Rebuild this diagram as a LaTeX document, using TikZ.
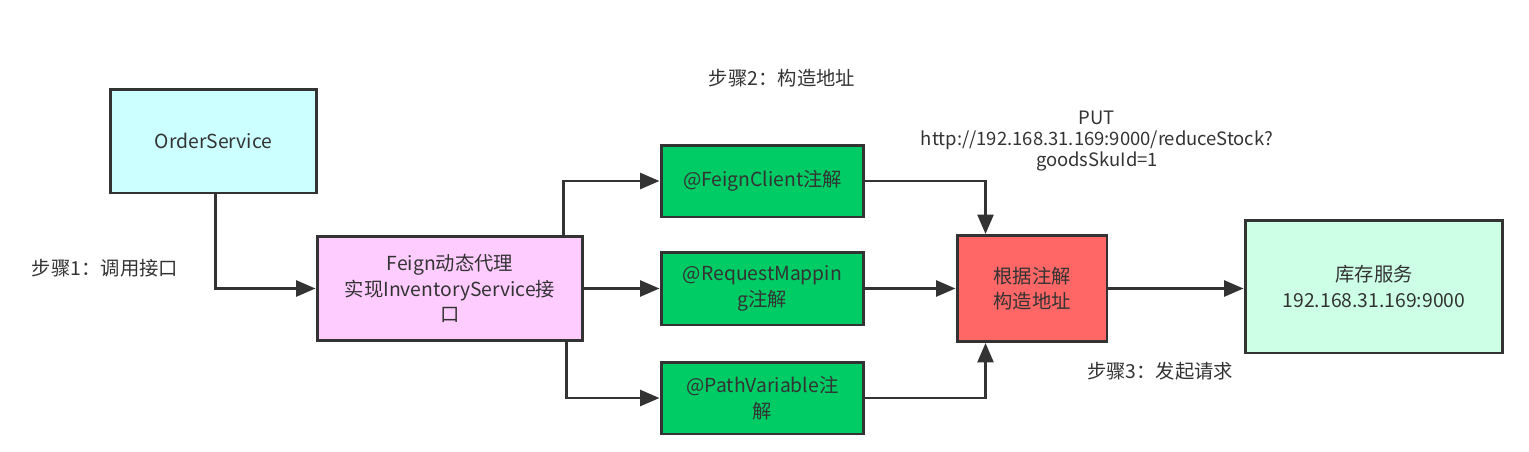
\documentclass[tikz,border=0pt]{standalone}
\usepackage{fontspec}
\setmainfont{Noto Sans CJK SC}
\usetikzlibrary{arrows.meta, positioning, calc}
\definecolor{linegray}{HTML}{333333}
\definecolor{ordercyan}{HTML}{CCFFFF}
\definecolor{feignpink}{HTML}{FFCCFF}
\definecolor{annogreen}{HTML}{00CC66}
\definecolor{addrred}{HTML}{FF6666}
\definecolor{invgreen}{HTML}{CCFFE6}

\begin{document}
\begin{tikzpicture}[x=0.02cm, y=-0.02cm,
		font=\fontsize{11}{14.5}\selectfont, text=linegray,
		box/.style = {draw=linegray, line width=1.7pt, align=center,
				inner sep=0pt},
		flow/.style = {draw=linegray, line width=1.6pt,
				-{Triangle[length=11pt, width=9pt]}},
		note/.style = {align=center, inner sep=0pt}
                   ]

%Bounding box
    \useasboundingbox (0,0) rectangle (1529,451);

%Boxes
    \node[box, fill=ordercyan, minimum width=4.14cm, minimum height=2.08cm] (order) at (213.5,141) {OrderService};
    \node[box, fill=feignpink, minimum width=5.32cm, minimum height=2.08cm] (feign) at (450,288.5) {Feign动态代理\\实现InventoryService接\\口};
    \node[box, fill=annogreen, minimum width=4.06cm, minimum height=1.44cm] (client) at (762.5,181) {@FeignClient注解};
    \node[box, fill=annogreen, minimum width=4.06cm, minimum height=1.46cm] (mapping) at (762.5,288.5) {@RequestMappin\\g注解};
    \node[box, fill=annogreen, minimum width=4.06cm, minimum height=1.44cm] (pathvar) at (762.5,398) {@PathVariable注\\解};
    \node[box, fill=addrred, minimum width=3.0cm, minimum height=2.12cm] (addr) at (1032,288.5) {根据注解\\构造地址};
    \node[box, fill=invgreen, minimum width=5.16cm, minimum height=2.66cm] (inv) at (1374,286.5) {库存服务\\192.168.31.169:9000};

%Labels
    \node[note] (step1) at (105,268) {步骤1：调用接口};
    \node[note] (step2) at (782,78) {步骤2：构造地址};
    \node[note, font=\fontsize{10.5}{12.2}\selectfont] (url) at (1097,141) {PUT\\http://192.168.31.169:9000/reduceStock?\\goodsSkuId=1};
    \node[note] (step3) at (1160,371) {步骤3：发起请求};

%Connectors
    \draw[flow] ([xshift=0.04cm]order.south) |- (feign.west);
    \draw[flow] ([xshift=-0.42cm]feign.north east) |- (client.west);
    \draw[flow] (feign.east) -- (mapping.west);
    \draw[flow] ([xshift=-0.36cm]feign.south east) |- (pathvar.west);
    \draw[flow] (client.east) -| ([xshift=0.6cm]addr.north west);
    \draw[flow] (mapping.east) -- (addr.west);
    \draw[flow] (pathvar.east) -| ([xshift=0.6cm]addr.south west);
    \draw[flow] (addr.east) -- (addr.east -| inv.west);

\end{tikzpicture}
\end{document}
